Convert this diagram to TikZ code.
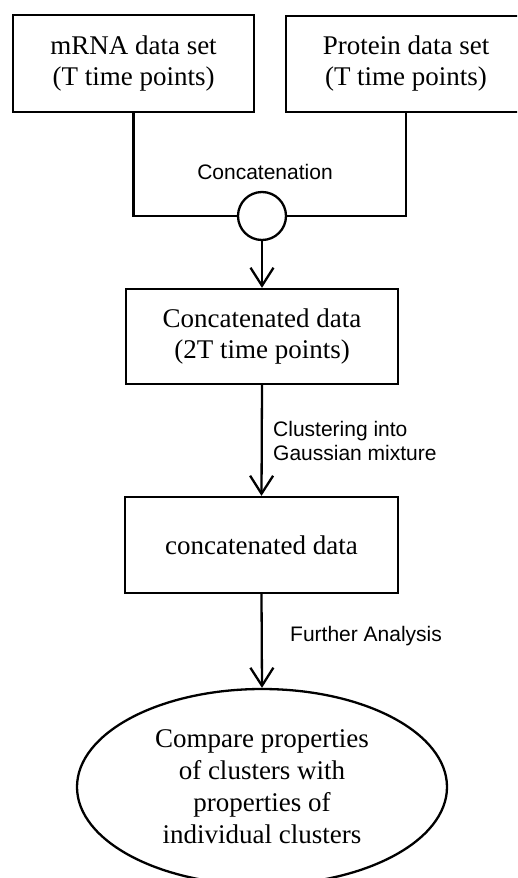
\documentclass[tikz,border=0pt]{standalone}
\usepackage{fontspec}
\setmainfont{Liberation Serif}
\setsansfont{Liberation Sans}
\usetikzlibrary{shapes.geometric,arrows.meta}

\tikzset{
  databox/.style={draw, line width=2.3pt, inner sep=0pt, align=center,
    font=\fontsize{27}{31}\selectfont},
  joiner/.style={draw, circle, line width=2.3pt, minimum size=48pt, inner sep=0pt},
  outcome/.style={draw, ellipse, line width=2.3pt, inner sep=0pt, align=center,
    minimum width=370pt, minimum height=196pt,
    font=\fontsize{27}{32}\selectfont},
  flow/.style={line width=2.3pt},
  flowarrow/.style={line width=2.3pt, -{Straight Barb[length=18pt,width=23pt,line width=2.3pt]}},
  steplabel/.style={font=\sffamily\fontsize{21}{24}\selectfont, align=left, inner sep=0pt}
}

\begin{document}
\begin{tikzpicture}[x=1pt, y=-1pt]
  \useasboundingbox (0,0) rectangle (517,878);
  \clip (0,0) rectangle (517,878);

  % input data sets
  \node[databox, minimum width=241pt, minimum height=97pt] (mrna) at (133.5,63.5)
    {mRNA data set\\(T time points)};
  \node[databox, minimum width=240pt, minimum height=96pt] (prot) at (406,64)
    {Protein data set\\(T time points)};

  % concatenation junction
  \node[joiner] (join) at (262,216) {};
  \node[steplabel] (concatlbl) at (265,172) {Concatenation};

  \draw[flow] (mrna.south) |- (join.west);
  \draw[flow] (prot.south) |- (join.east);

  % concatenated data
  \node[databox, minimum width=272pt, minimum height=95pt] (concat) at (262,336.5)
    {Concatenated data\\(2T time points)};
  \draw[flowarrow] (join.south) -- (concat.north);

  % clustered data
  \node[databox, minimum width=273pt, minimum height=96pt] (clustered) at (261.5,545)
    {concatenated data};
  \draw[flowarrow] (concat.south) -- (clustered.north);
  \node[steplabel, anchor=west] (clusterlbl) at (273,441)
    {Clustering into\\Gaussian mixture};

  % comparison
  \node[outcome] (compare) at (262,787)
    {Compare properties\\of clusters with\\properties of\\individual clusters};
  \draw[flowarrow] (clustered.south) -- (compare.north);
  \node[steplabel, anchor=west] (furtherlbl) at (290,636) {Further Analysis};
\end{tikzpicture}
\end{document}
